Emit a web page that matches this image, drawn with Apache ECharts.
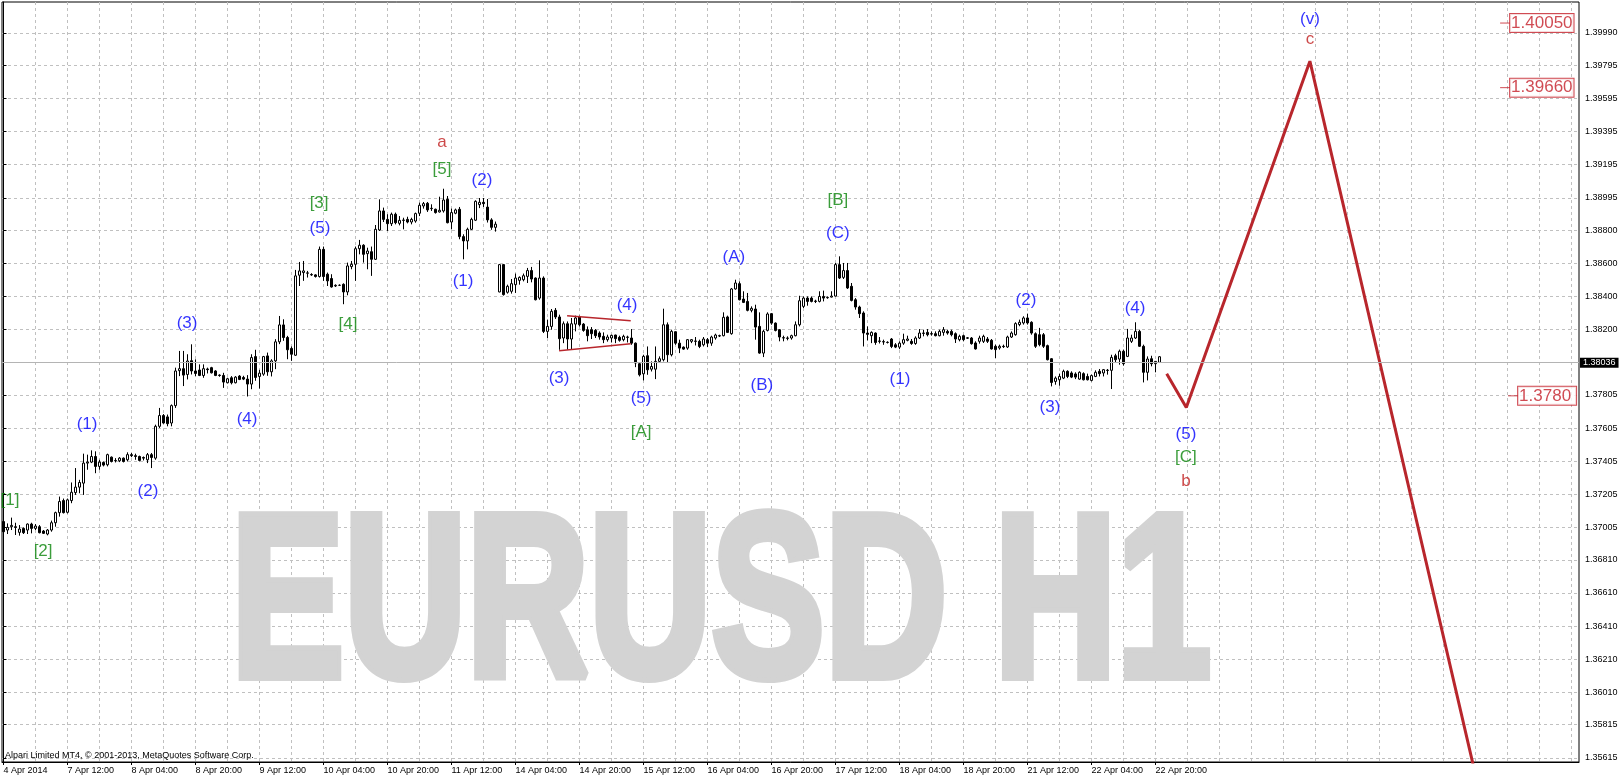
<!DOCTYPE html>
<html>
<head>
<meta charset="utf-8">
<title>EURUSD H1</title>
<script src="https://cdn.jsdelivr.net/npm/echarts@6/dist/echarts.min.js"></script>
<style>
html, body { margin: 0; padding: 0; background: #fff; }
#chart { width: 1622px; height: 780px; }
</style>
</head>
<body>
<div id="chart"></div>
<script>
// H1 bars, bar 0 = 4 Apr 2014 20:00, last bar = 22 Apr 21:00
const opens = [
  1.37041, 1.36990, 1.37010, 1.37010, 1.36976, 1.37000, 1.36990, 1.37026, 1.37000, 1.37010,
  1.36984, 1.36966, 1.36990, 1.37034, 1.37095, 1.37168, 1.37097, 1.37168, 1.37216, 1.37249,
  1.37273, 1.37394, 1.37400, 1.37434, 1.37374, 1.37398, 1.37384, 1.37430, 1.37410, 1.37408,
  1.37424, 1.37414, 1.37445, 1.37439, 1.37434, 1.37428, 1.37414, 1.37445, 1.37424, 1.37616,
  1.37681, 1.37673, 1.37636, 1.37741, 1.37952, 1.37964, 1.37929, 1.38012, 1.37950, 1.37956,
  1.37923, 1.37962, 1.37970, 1.37950, 1.37925, 1.37923, 1.37879, 1.37909, 1.37879, 1.37919,
  1.37911, 1.37901, 1.37871, 1.38037, 1.37917, 1.37931, 1.38041, 1.37945, 1.38011, 1.38126,
  1.38228, 1.38152, 1.38086, 1.38045, 1.38528, 1.38544, 1.38540, 1.38532, 1.38530, 1.38520,
  1.38684, 1.38534, 1.38508, 1.38463, 1.38467, 1.38473, 1.38427, 1.38580, 1.38594, 1.38688,
  1.38709, 1.38658, 1.38670, 1.38624, 1.38801, 1.38916, 1.38865, 1.38839, 1.38896, 1.38841,
  1.38861, 1.38865, 1.38849, 1.38855, 1.38902, 1.38946, 1.38962, 1.38932, 1.38926, 1.38910,
  1.38916, 1.38986, 1.38849, 1.38902, 1.38926, 1.38761, 1.38735, 1.38805, 1.38860, 1.38954,
  1.38968, 1.38939, 1.38862, 1.38817, 1.38427, 1.38592, 1.38425, 1.38431, 1.38471, 1.38497,
  1.38501, 1.38521, 1.38556, 1.38511, 1.38390, 1.38511, 1.38189, 1.38219, 1.38316, 1.38276,
  1.38149, 1.38235, 1.38143, 1.38233, 1.38276, 1.38233, 1.38199, 1.38199, 1.38195, 1.38179,
  1.38159, 1.38139, 1.38149, 1.38167, 1.38153, 1.38139, 1.38155, 1.38149, 1.38118, 1.37994,
  1.37933, 1.38042, 1.37961, 1.37961, 1.38008, 1.38018, 1.38229, 1.38048, 1.38187, 1.38118,
  1.38094, 1.38088, 1.38129, 1.38131, 1.38129, 1.38108, 1.38139, 1.38118, 1.38149, 1.38163,
  1.38163, 1.38276, 1.38175, 1.38445, 1.38477, 1.38384, 1.38370, 1.38316, 1.38324, 1.38219,
  1.38058, 1.38195, 1.38296, 1.38239, 1.38199, 1.38151, 1.38149, 1.38149, 1.38163, 1.38229,
  1.38340, 1.38390, 1.38390, 1.38372, 1.38370, 1.38400, 1.38394, 1.38396, 1.38402, 1.38592,
  1.38515, 1.38556, 1.38461, 1.38380, 1.38336, 1.38300, 1.38179, 1.38163, 1.38179, 1.38131,
  1.38127, 1.38123, 1.38143, 1.38108, 1.38094, 1.38118, 1.38135, 1.38129, 1.38116, 1.38149,
  1.38179, 1.38183, 1.38175, 1.38175, 1.38163, 1.38183, 1.38189, 1.38189, 1.38175, 1.38139,
  1.38163, 1.38150, 1.38149, 1.38119, 1.38129, 1.38129, 1.38143, 1.38135, 1.38099, 1.38089,
  1.38099, 1.38095, 1.38155, 1.38169, 1.38230, 1.38240, 1.38270, 1.38244, 1.38175, 1.38169,
  1.38169, 1.38103, 1.38024, 1.37887, 1.37897, 1.37907, 1.37948, 1.37938, 1.37932, 1.37901,
  1.37934, 1.37917, 1.37893, 1.37917, 1.37948, 1.37938, 1.37955, 1.37954, 1.38042, 1.38022,
  1.38069, 1.38038, 1.38129, 1.38149, 1.38189, 1.38099, 1.37942, 1.38024, 1.37994, 1.38002
];
const highs = [
  1.37045, 1.37030, 1.37065, 1.37034, 1.37020, 1.37006, 1.37030, 1.37034, 1.37026, 1.37020,
  1.36990, 1.36996, 1.37047, 1.37101, 1.37192, 1.37180, 1.37180, 1.37277, 1.37364, 1.37293,
  1.37451, 1.37445, 1.37471, 1.37465, 1.37414, 1.37404, 1.37451, 1.37434, 1.37424, 1.37430,
  1.37428, 1.37459, 1.37455, 1.37451, 1.37439, 1.37434, 1.37455, 1.37455, 1.37626, 1.37727,
  1.37690, 1.37687, 1.37748, 1.37970, 1.38071, 1.38071, 1.38051, 1.38111, 1.38020, 1.37990,
  1.37990, 1.37970, 1.37975, 1.37955, 1.37930, 1.37939, 1.37909, 1.37919, 1.37919, 1.37925,
  1.37921, 1.37925, 1.38051, 1.38078, 1.37957, 1.38041, 1.38061, 1.38021, 1.38142, 1.38282,
  1.38262, 1.38162, 1.38098, 1.38560, 1.38608, 1.38614, 1.38554, 1.38540, 1.38534, 1.38701,
  1.38701, 1.38544, 1.38534, 1.38473, 1.38473, 1.38479, 1.38604, 1.38614, 1.38701, 1.38741,
  1.38715, 1.38694, 1.38701, 1.38831, 1.38986, 1.38936, 1.38896, 1.38906, 1.38906, 1.38885,
  1.38875, 1.38881, 1.38875, 1.38906, 1.38966, 1.38970, 1.38970, 1.38956, 1.38930, 1.39002,
  1.39050, 1.39006, 1.38930, 1.38930, 1.38940, 1.38775, 1.38815, 1.38875, 1.38980, 1.38994,
  1.38994, 1.38988, 1.38872, 1.38852, 1.38596, 1.38596, 1.38471, 1.38505, 1.38538, 1.38521,
  1.38538, 1.38572, 1.38578, 1.38515, 1.38618, 1.38521, 1.38260, 1.38324, 1.38330, 1.38290,
  1.38249, 1.38249, 1.38270, 1.38284, 1.38284, 1.38239, 1.38219, 1.38215, 1.38203, 1.38189,
  1.38183, 1.38169, 1.38169, 1.38169, 1.38163, 1.38169, 1.38163, 1.38203, 1.38122, 1.37998,
  1.38048, 1.38098, 1.38008, 1.38098, 1.38038, 1.38326, 1.38243, 1.38199, 1.38189, 1.38139,
  1.38098, 1.38143, 1.38143, 1.38155, 1.38139, 1.38155, 1.38149, 1.38163, 1.38175, 1.38169,
  1.38304, 1.38284, 1.38451, 1.38501, 1.38491, 1.38431, 1.38421, 1.38340, 1.38350, 1.38304,
  1.38199, 1.38304, 1.38300, 1.38243, 1.38203, 1.38163, 1.38159, 1.38169, 1.38249, 1.38404,
  1.38400, 1.38400, 1.38400, 1.38380, 1.38431, 1.38435, 1.38400, 1.38431, 1.38602, 1.38642,
  1.38602, 1.38602, 1.38481, 1.38390, 1.38344, 1.38310, 1.38219, 1.38189, 1.38183, 1.38155,
  1.38139, 1.38129, 1.38149, 1.38118, 1.38129, 1.38175, 1.38163, 1.38143, 1.38159, 1.38203,
  1.38199, 1.38203, 1.38189, 1.38189, 1.38199, 1.38215, 1.38199, 1.38199, 1.38183, 1.38169,
  1.38169, 1.38155, 1.38155, 1.38129, 1.38163, 1.38169, 1.38155, 1.38143, 1.38109, 1.38109,
  1.38109, 1.38163, 1.38189, 1.38244, 1.38260, 1.38280, 1.38296, 1.38250, 1.38183, 1.38210,
  1.38179, 1.38109, 1.38028, 1.37917, 1.37934, 1.37958, 1.37954, 1.37948, 1.37942, 1.37948,
  1.37942, 1.37934, 1.37928, 1.37954, 1.37962, 1.37962, 1.37962, 1.38048, 1.38054, 1.38079,
  1.38079, 1.38204, 1.38169, 1.38244, 1.38199, 1.38109, 1.38038, 1.38042, 1.38010, 1.38040
];
const lows = [
  1.36975, 1.36966, 1.36990, 1.36960, 1.36956, 1.36966, 1.36966, 1.36970, 1.36990, 1.36970,
  1.36966, 1.36958, 1.36980, 1.37010, 1.37071, 1.37090, 1.37090, 1.37152, 1.37202, 1.37212,
  1.37202, 1.37354, 1.37394, 1.37333, 1.37354, 1.37374, 1.37374, 1.37398, 1.37398, 1.37400,
  1.37398, 1.37404, 1.37430, 1.37414, 1.37404, 1.37410, 1.37394, 1.37364, 1.37414, 1.37606,
  1.37632, 1.37616, 1.37616, 1.37727, 1.37919, 1.37859, 1.37899, 1.37929, 1.37919, 1.37919,
  1.37909, 1.37935, 1.37935, 1.37919, 1.37915, 1.37848, 1.37875, 1.37869, 1.37875, 1.37895,
  1.37895, 1.37796, 1.37840, 1.37891, 1.37844, 1.37921, 1.37921, 1.37917, 1.37961, 1.38112,
  1.38132, 1.38021, 1.38011, 1.38041, 1.38463, 1.38494, 1.38514, 1.38524, 1.38514, 1.38514,
  1.38494, 1.38463, 1.38453, 1.38457, 1.38463, 1.38353, 1.38407, 1.38564, 1.38494, 1.38654,
  1.38604, 1.38564, 1.38524, 1.38620, 1.38795, 1.38849, 1.38795, 1.38825, 1.38835, 1.38829,
  1.38805, 1.38841, 1.38835, 1.38845, 1.38885, 1.38930, 1.38910, 1.38916, 1.38900, 1.38906,
  1.38906, 1.38841, 1.38805, 1.38896, 1.38745, 1.38624, 1.38684, 1.38801, 1.38855, 1.38933,
  1.38940, 1.38846, 1.38802, 1.38791, 1.38425, 1.38405, 1.38417, 1.38417, 1.38421, 1.38471,
  1.38491, 1.38481, 1.38485, 1.38376, 1.38380, 1.38179, 1.38149, 1.38199, 1.38264, 1.38078,
  1.38118, 1.38078, 1.38082, 1.38189, 1.38219, 1.38187, 1.38129, 1.38143, 1.38149, 1.38139,
  1.38118, 1.38127, 1.38122, 1.38118, 1.38127, 1.38129, 1.38122, 1.38108, 1.37973, 1.37917,
  1.37893, 1.37927, 1.37947, 1.37901, 1.37998, 1.38008, 1.37998, 1.38038, 1.38108, 1.38058,
  1.38078, 1.38078, 1.38118, 1.38104, 1.38088, 1.38098, 1.38094, 1.38102, 1.38139, 1.38155,
  1.38159, 1.38179, 1.38169, 1.38441, 1.38376, 1.38360, 1.38310, 1.38304, 1.38139, 1.38054,
  1.38034, 1.38189, 1.38229, 1.38189, 1.38129, 1.38129, 1.38135, 1.38139, 1.38159, 1.38219,
  1.38330, 1.38344, 1.38364, 1.38360, 1.38364, 1.38370, 1.38386, 1.38394, 1.38400, 1.38505,
  1.38505, 1.38445, 1.38370, 1.38320, 1.38270, 1.38098, 1.38135, 1.38118, 1.38108, 1.38116,
  1.38108, 1.38116, 1.38088, 1.38088, 1.38082, 1.38108, 1.38129, 1.38108, 1.38108, 1.38143,
  1.38159, 1.38159, 1.38163, 1.38159, 1.38159, 1.38163, 1.38169, 1.38159, 1.38119, 1.38129,
  1.38129, 1.38143, 1.38109, 1.38079, 1.38115, 1.38119, 1.38119, 1.38079, 1.38028, 1.38079,
  1.38089, 1.38089, 1.38149, 1.38163, 1.38220, 1.38230, 1.38230, 1.38169, 1.38089, 1.38099,
  1.38089, 1.38014, 1.37857, 1.37867, 1.37861, 1.37901, 1.37907, 1.37907, 1.37901, 1.37897,
  1.37893, 1.37893, 1.37887, 1.37913, 1.37917, 1.37917, 1.37928, 1.37841, 1.37998, 1.37988,
  1.37982, 1.38034, 1.38119, 1.38143, 1.38095, 1.37881, 1.37893, 1.37978, 1.37942, 1.38000
];
const closes = [
  1.36980, 1.37006, 1.37018, 1.37006, 1.36996, 1.36974, 1.37026, 1.37000, 1.37014, 1.36974,
  1.36970, 1.36990, 1.37034, 1.37095, 1.37162, 1.37095, 1.37172, 1.37218, 1.37249, 1.37277,
  1.37394, 1.37400, 1.37434, 1.37374, 1.37400, 1.37382, 1.37445, 1.37404, 1.37408, 1.37424,
  1.37404, 1.37445, 1.37439, 1.37434, 1.37410, 1.37424, 1.37445, 1.37428, 1.37616, 1.37681,
  1.37636, 1.37632, 1.37741, 1.37950, 1.37964, 1.37925, 1.38010, 1.37950, 1.37935, 1.37923,
  1.37964, 1.37958, 1.37939, 1.37923, 1.37923, 1.37883, 1.37903, 1.37879, 1.37913, 1.37899,
  1.37901, 1.37871, 1.38031, 1.37911, 1.37937, 1.38037, 1.37945, 1.38011, 1.38126, 1.38228,
  1.38152, 1.38078, 1.38051, 1.38524, 1.38554, 1.38554, 1.38542, 1.38530, 1.38520, 1.38684,
  1.38520, 1.38494, 1.38457, 1.38467, 1.38467, 1.38427, 1.38584, 1.38594, 1.38688, 1.38709,
  1.38654, 1.38674, 1.38624, 1.38805, 1.38916, 1.38865, 1.38839, 1.38896, 1.38845, 1.38859,
  1.38859, 1.38849, 1.38865, 1.38900, 1.38950, 1.38960, 1.38922, 1.38930, 1.38906, 1.38920,
  1.38982, 1.38845, 1.38906, 1.38922, 1.38761, 1.38735, 1.38805, 1.38865, 1.38974, 1.38968,
  1.38960, 1.38862, 1.38817, 1.38836, 1.38592, 1.38411, 1.38461, 1.38477, 1.38511, 1.38515,
  1.38525, 1.38556, 1.38505, 1.38380, 1.38511, 1.38189, 1.38219, 1.38310, 1.38276, 1.38145,
  1.38235, 1.38143, 1.38235, 1.38270, 1.38229, 1.38195, 1.38163, 1.38175, 1.38163, 1.38155,
  1.38139, 1.38155, 1.38165, 1.38145, 1.38135, 1.38159, 1.38153, 1.38118, 1.37998, 1.37927,
  1.38038, 1.37957, 1.37977, 1.38008, 1.38024, 1.38229, 1.38048, 1.38189, 1.38118, 1.38088,
  1.38082, 1.38139, 1.38139, 1.38129, 1.38098, 1.38143, 1.38118, 1.38155, 1.38167, 1.38161,
  1.38274, 1.38183, 1.38445, 1.38481, 1.38380, 1.38364, 1.38316, 1.38328, 1.38215, 1.38058,
  1.38189, 1.38294, 1.38239, 1.38195, 1.38155, 1.38149, 1.38147, 1.38163, 1.38229, 1.38374,
  1.38390, 1.38370, 1.38370, 1.38370, 1.38400, 1.38390, 1.38392, 1.38402, 1.38592, 1.38511,
  1.38556, 1.38451, 1.38376, 1.38336, 1.38296, 1.38179, 1.38171, 1.38183, 1.38122, 1.38129,
  1.38125, 1.38122, 1.38098, 1.38094, 1.38118, 1.38139, 1.38143, 1.38116, 1.38149, 1.38179,
  1.38177, 1.38169, 1.38173, 1.38163, 1.38189, 1.38199, 1.38179, 1.38169, 1.38143, 1.38159,
  1.38139, 1.38148, 1.38115, 1.38083, 1.38149, 1.38159, 1.38129, 1.38083, 1.38079, 1.38099,
  1.38097, 1.38155, 1.38179, 1.38236, 1.38244, 1.38270, 1.38240, 1.38179, 1.38099, 1.38109,
  1.38099, 1.38018, 1.37881, 1.37907, 1.37917, 1.37948, 1.37917, 1.37913, 1.37913, 1.37942,
  1.37897, 1.37897, 1.37922, 1.37942, 1.37934, 1.37958, 1.37953, 1.38032, 1.38018, 1.38069,
  1.37994, 1.38149, 1.38149, 1.38189, 1.38099, 1.37942, 1.38022, 1.37994, 1.38008, 1.38036
];

// time axis labels, one every 16 bars
const timeLabels = ['4 Apr 2014', '7 Apr 12:00', '8 Apr 04:00', '8 Apr 20:00', '9 Apr 12:00',
  '10 Apr 04:00', '10 Apr 20:00', '11 Apr 12:00', '14 Apr 04:00', '14 Apr 20:00', '15 Apr 12:00',
  '16 Apr 04:00', '16 Apr 20:00', '17 Apr 12:00', '18 Apr 04:00', '18 Apr 20:00', '21 Apr 12:00',
  '22 Apr 04:00', '22 Apr 20:00'];
// price scale labels as MT4 prints them
const priceTicks = [1.35615, 1.35815, 1.36010, 1.36210, 1.36410, 1.36610, 1.36810, 1.37005,
  1.37205, 1.37405, 1.37605, 1.37805, 1.38000, 1.38200, 1.38400, 1.38600, 1.38800, 1.38995,
  1.39195, 1.39395, 1.39595, 1.39795, 1.39990];

const currentPrice = 1.38036;
// hand drawn projection (bar, price)
const projection = [[290.8, 1.37934], [295.7, 1.37730], [326.6, 1.39820], [368.5, 1.35460]];
const triangleTop = [[140.9, 1.38284], [156.8, 1.38253]];
const triangleBottom = [[138.9, 1.38072], [156.8, 1.38114]];

// wave count labels: bar, price, text
const blueWaves = [
  [20.9, 1.37630, '(1)'], [36.1, 1.37226, '(2)'], [45.9, 1.38240, '(3)'], [60.9, 1.37660, '(4)'],
  [79.1, 1.38813, '(5)'], [114.9, 1.38493, '(1)'], [119.6, 1.39103, '(2)'], [138.9, 1.37908, '(3)'],
  [155.9, 1.38348, '(4)'], [159.4, 1.37787, '(5)'], [182.6, 1.38638, '(A)'], [189.6, 1.37866, '(B)'],
  [208.6, 1.38783, '(C)'], [224.1, 1.37902, '(1)'], [255.6, 1.38379, '(2)'], [261.6, 1.37733, '(3)'],
  [282.9, 1.38330, '(4)'], [295.6, 1.37570, '(5)'], [326.6, 1.40075, '(v)']
];
const greenWaves = [
  [1.6, 1.37172, '[1]'], [9.9, 1.36864, '[2]'], [78.9, 1.38964, '[3]'], [86.1, 1.38234, '[4]'],
  [109.6, 1.39169, '[5]'], [159.4, 1.37582, '[A]'], [208.6, 1.38982, '[B]'], [295.6, 1.37430, '[C]']
];
const redWaves = [[109.6, 1.39332, 'a'], [295.6, 1.37286, 'b'], [326.6, 1.39954, 'c']];
// price labels at the right edge
const priceMarks = [[375.4, 1.40050, '1.40050'], [375.4, 1.39660, '1.39660'], [377.4, 1.37800, '1.37800']];

const xMin = -0.375, xMax = 393.875;
const labelEvery = 16, gridEvery = 8;
const axisFont = 'Liberation Sans';
const markRed = '#c41e28';
const xLabelIdx = timeLabels.map((t, i) => i * labelEvery);
const xGridIdx = [];
for (let i = 0; i <= xMax; i += gridEvery) xGridIdx.push(i);

const candles = opens.map((o, i) => [i, o, closes[i], lows[i], highs[i]]);
const gridLine = { color: '#c0c0c0', type: [3, 3], width: 1 };

function waveSeries(data, color) {
  return {
    type: 'scatter', data: data, symbolSize: 1, z: 5,
    itemStyle: { color: 'transparent' },
    label: {
      show: true, position: 'inside', formatter: p => p.data[2],
      color: color, fontFamily: 'Liberation Sans', fontSize: 17
    }
  };
}

// the last box runs into the price scale and gets cut there
const markItems = priceMarks.map((m, i) => {
  const item = { value: m };
  if (i === priceMarks.length - 1) item.label = { width: 56, overflow: 'truncate', ellipsis: '' };
  return item;
});

const chart = echarts.init(document.getElementById('chart'));
chart.setOption({
  animation: false,
  backgroundColor: '#fff',
  grid: { left: 2, right: 43, top: 2, bottom: 18, show: true, borderColor: '#000', borderWidth: 1 },
  graphic: [
    {
      type: 'text', x: 231, y: 612, scaleX: 0.731, z: 1, silent: true,
      style: {
        text: 'EURUSD H1', font: 'bold 232px "Liberation Sans"', fill: '#d3d3d3',
        stroke: '#d3d3d3', lineWidth: 10, lineJoin: 'miter', miterLimit: 2,
        align: 'left', verticalAlign: 'middle'
      }
    },
    {
      type: 'text', x: 5, y: 756, z: 10, silent: true,
      style: { text: 'Alpari Limited MT4, \u00a9 2001-2013, MetaQuotes Software Corp.', font: '9px "Liberation Sans"', fill: '#000', verticalAlign: 'middle' }
    }
  ],
  xAxis: [
    {
      type: 'value', min: xMin, max: xMax, position: 'bottom',
      axisLine: { show: true, onZero: false, lineStyle: { color: '#000' } },
      axisTick: { show: true, length: 3, customValues: xLabelIdx, lineStyle: { color: '#000' } },
      axisLabel: {
        customValues: xLabelIdx, formatter: v => timeLabels[Math.round(v / labelEvery)],
        align: 'left', margin: 4, color: '#000', fontFamily: axisFont, fontSize: 9
      },
      splitLine: { show: false }
    },
    {
      type: 'value', min: xMin, max: xMax, position: 'bottom',
      axisLine: { show: false }, axisTick: { show: false, customValues: xGridIdx },
      axisLabel: { show: false }, splitLine: { show: true, lineStyle: gridLine }
    }
  ],
  yAxis: {
    type: 'value', position: 'right', min: 1.35590, max: 1.40177, scale: true,
    axisLine: { show: true, lineStyle: { color: '#000' } },
    axisTick: { show: true, length: 3, customValues: priceTicks, lineStyle: { color: '#000' } },
    axisLabel: {
      customValues: priceTicks, formatter: v => v.toFixed(5),
      margin: 6, color: '#000', fontFamily: axisFont, fontSize: 9
    },
    splitLine: { show: true, lineStyle: gridLine }
  },
  series: [
    {
      type: 'candlestick', data: candles, encode: { x: 0, y: [1, 2, 3, 4] },
      barWidth: 2, z: 3,
      itemStyle: { color: '#fff', color0: '#000', borderColor: '#000', borderColor0: '#000', borderWidth: 1 },
      markLine: {
        silent: true, symbol: 'none', animation: false,
        lineStyle: { color: '#b4b4b4', type: 'solid', width: 1 },
        label: {
          position: 'end', distance: 1, formatter: currentPrice.toFixed(5),
          backgroundColor: '#000', color: '#fff', padding: [1, 3, 0, 3], fontFamily: axisFont, fontSize: 9
        },
        data: [{ yAxis: currentPrice }]
      }
    },
    {
      type: 'line', data: projection, symbol: 'none', clip: true, z: 4,
      lineStyle: { color: '#b8262c', width: 3 }
    },
    {
      type: 'line', data: triangleTop, symbol: 'none', z: 4,
      lineStyle: { color: '#b8262c', width: 1.5 }
    },
    {
      type: 'line', data: triangleBottom, symbol: 'none', z: 4,
      lineStyle: { color: '#b8262c', width: 1.5 }
    },
    waveSeries(blueWaves, '#0000ff'),
    waveSeries(greenWaves, '#0a840a'),
    waveSeries(redWaves, '#c01c1c'),
    {
      type: 'scatter', data: markItems, symbol: 'rect', symbolSize: [10, 1], z: 6,
      itemStyle: { color: markRed },
      label: {
        show: true, position: 'right', distance: 0, formatter: p => p.data.value[2],
        color: markRed, fontFamily: 'Liberation Sans', fontSize: 17,
        backgroundColor: '#fff', borderColor: markRed, borderWidth: 1, padding: [1, 1, 0, 1]
      }
    }
  ]
});
</script>
</body>
</html>
